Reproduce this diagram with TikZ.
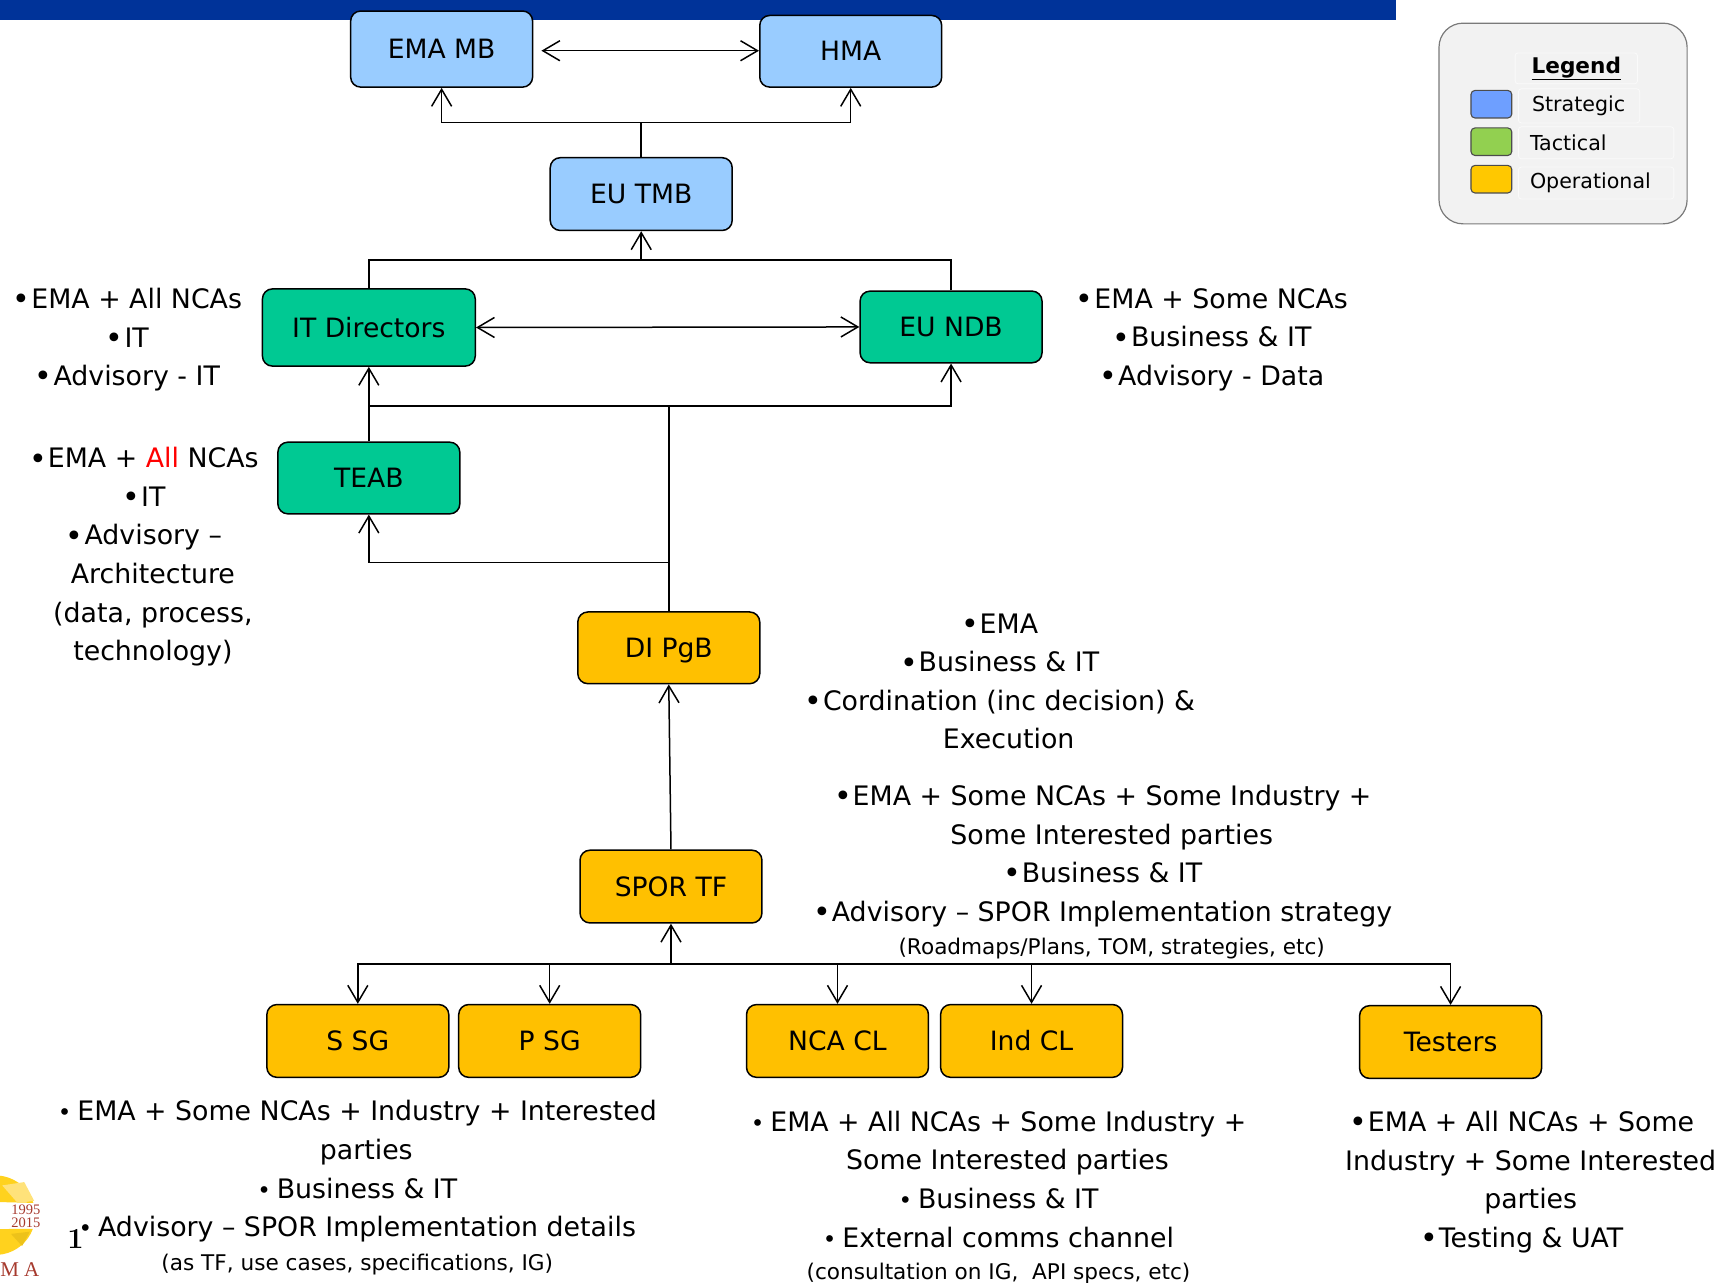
\documentclass[tikz,border=0pt]{standalone}
\usepackage{fontspec}
\setsansfont{DejaVu Sans}
\newfontfamily\logofont{Liberation Serif}
\usetikzlibrary{arrows.meta,calc}
\newdimen\pxu \pxu=1.1027pt
\definecolor{bandblue}{HTML}{003399}
\definecolor{stratfill}{HTML}{99CCFF}
\definecolor{tactfill}{HTML}{00C993}
\definecolor{opfill}{HTML}{FFC000}
\definecolor{legfill}{HTML}{F2F2F2}
\definecolor{legedge}{HTML}{7A7A7A}
\definecolor{logored}{HTML}{A63A2E}
\definecolor{logogold}{HTML}{FFD21E}
\definecolor{logolight}{HTML}{FFE27A}
\definecolor{logodark}{HTML}{EDC21A}
\newcommand{\bl}{\raisebox{-1.3pt}{\fontsize{30}{30}\selectfont\textbullet}\hspace{1pt}}
\newcommand{\sbl}{{\fontsize{23}{23}\selectfont\textbullet}\hspace{6pt}}
\newcommand{\nb}{\hspace*{18pt}}
\tikzset{
  x=1.1027pt,y=-1.1027pt,
  every node/.style={font=\sffamily},
  boxbase/.style={draw=black,line width=1.5pt,rounded corners=10pt,inner sep=0pt,text=black,
     text height=19.4pt,text depth=0pt,
     minimum width=165\pxu,minimum height=66\pxu,font=\sffamily\fontsize{26.6}{30}\selectfont},
  strat/.style={boxbase,fill=stratfill},
  tact/.style={boxbase,fill=tactfill},
  oper/.style={boxbase,fill=opfill},
  conn/.style={draw=black,line width=1.5pt},
  arr/.style={conn,-{Straight Barb[length=17pt,width=20pt,line width=1.5pt]}},
  darr/.style={conn,{Straight Barb[length=17pt,width=20pt,line width=1.5pt]}-{Straight Barb[length=17pt,width=20pt,line width=1.5pt]}},
  notes/.style={align=center,inner sep=0pt,text=black,font=\sffamily\fontsize{26.8}{38.6}\selectfont},
  swatch/.style={draw=black!70,line width=1.1pt,rounded corners=4pt,minimum width=37\pxu,minimum height=25\pxu,inner sep=0pt},
  legframe/.style={draw=white!60!legfill,fill=legfill,line width=0.8pt,rounded corners=3pt,inner ysep=0pt,align=left,text=black,font=\sffamily\fontsize{20.6}{24}\selectfont},
}
\begin{document}
\begin{tikzpicture}
\useasboundingbox (0,0) rectangle (1568,1163);
\clip (0,0) rectangle (1568,1163);
% band
\fill[bandblue] (0,0) rectangle (1266,18);
% logo
\fill[logogold] (-4,1102) ++(20:36) arc (20:120:36) -- ++(210:14) arc (120:20:22) -- cycle;
\fill[logogold] (-4,1102) ++(-18:36) arc (-18:-120:36) -- ++(150:14) arc (-120:-18:22) -- cycle;
\fill[logolight] (2,1075) -- (22,1072) -- (31,1089) -- (16,1091) -- cycle;
\fill[logodark] (10,1119) -- (27,1117) -- (20,1130) -- cycle;
\node[text=logored,font=\logofont\fontsize{14.5}{15}\selectfont,inner sep=0pt] (y1) at (23.5,1097) {1995};
\node[text=logored,font=\logofont\fontsize{14.5}{15}\selectfont,inner sep=0pt] (y2) at (23.5,1109) {2015};
\node[text=logored,font=\logofont\fontsize{21}{21}\selectfont,inner sep=0pt] (ma) at (18,1151) {M A};
\node[text=black,font=\rmfamily\bfseries\fontsize{29}{30}\selectfont,inner sep=0pt] (pg) at (68.5,1124) {1};
% boxes
\node[strat,minimum height=69\pxu] (emamb) at (400.5,44.5) {EMA MB};
\node[strat,minimum height=65\pxu] (hma) at (771.5,46.5) {HMA};
\node[strat] (tmb) at (581.5,176) {EU TMB};
\node[tact,minimum width=193\pxu,minimum height=70\pxu] (itd) at (334.5,297) {IT Directors};
\node[tact,minimum height=65\pxu] (ndb) at (862.5,296.5) {EU NDB};
\node[tact,minimum height=65\pxu] (teab) at (334.5,433.5) {TEAB};
\node[oper,minimum height=65\pxu] (pgb) at (606.5,587.5) {DI PgB};
\node[oper] (spor) at (608.5,804) {SPOR TF};
\node[oper] (ssg) at (324.5,944) {S SG};
\node[oper] (psg) at (498.5,944) {P SG};
\node[oper] (ncacl) at (759.5,944) {NCA CL};
\node[oper] (indcl) at (935.5,944) {Ind CL};
\node[oper] (test) at (1315.5,945) {Testers};
% connectors
\coordinate (emaright) at (491,46);
\coordinate (jtop) at (581.5,111);
\coordinate (jmid) at (581.5,236);
\coordinate (jit) at (606.5,368);
\coordinate (jteab) at (606.5,510);
\coordinate (jspor) at (608.5,874);
\draw[conn] (tmb.north) -- (jtop);
\draw[arr] (jtop) -| (emamb.south);
\draw[arr] (jtop) -| (hma.south);
\draw[darr] (emaright) -- (emaright -| hma.west);
\draw[conn] (itd.north) |- (jmid);
\draw[conn] (ndb.north) |- (jmid);
\draw[arr] (jmid) -- (tmb.south);
\draw[darr] (itd.east) -- (ndb.west);
\draw[arr] (teab.north) -- (itd.south);
\draw[conn] (pgb.north) -- (jit);
\draw[conn] (jit) -- (jit -| itd.south);
\draw[arr] (jit) -| (ndb.south);
\draw[arr] (jteab) -| (teab.south);
\draw[arr] (spor.north) -- (pgb.south);
\draw[arr] (jspor) -- (spor.south);
\foreach \t in {ssg,psg,ncacl,indcl,test} \draw[arr] (jspor) -| (\t.north);
% notes
\node[notes] (n1) at (115.5,308) {\bl EMA + All NCAs\\\bl IT\\\bl Advisory - IT};
\node[notes] (n2) at (1099,308) {\bl EMA + Some NCAs\\\bl Business \& IT\\\bl Advisory - Data};
\node[notes] (n3) at (130.5,505) {\bl EMA + \textcolor{red}{All} NCAs\\\bl IT\\\bl Advisory --\\\nb Architecture\\\nb (data, process,\\\nb technology)};
\node[notes] (n4) at (906.5,618) {\bl EMA\\\bl Business \& IT\\\bl Cordination (inc decision) \&\\\nb Execution};
\node[notes] (n5) at (1000,791) {\bl EMA + Some NCAs + Some Industry +\\\nb Some Interested parties\\\bl Business \& IT\\\bl Advisory -- SPOR Implementation strategy\\[-5pt]\nb{\fontsize{21.6}{24}\selectfont (Roadmaps/Plans, TOM, strategies, etc)}};
\node[notes] (n6) at (324,1077) {\sbl EMA + Some NCAs + Industry + Interested\\\hspace*{18pt}parties\\\sbl Business \& IT\\\sbl Advisory -- SPOR Implementation details\\[-5pt]{\fontsize{21.6}{24}\selectfont (as TF, use cases, specifications, IG)}};
\node[notes] (n7) at (905.5,1086) {\sbl EMA + All NCAs + Some Industry +\\\hspace*{18pt}Some Interested parties\\\sbl Business \& IT\\\sbl External comms channel\\[-6pt]{\fontsize{21.6}{24}\selectfont (consultation on IG,\ \ API specs, etc)}};
\node[notes] (n8) at (1380,1072) {\bl EMA + All NCAs + Some\\\nb Industry + Some Interested\\\nb parties\\\bl Testing \& UAT};
% legend
\node[draw=legedge,fill=legfill,line width=1.2pt,rounded corners=24pt,minimum width=225\pxu,minimum height=182\pxu,inner sep=0pt] (leg) at (1417.5,112) {};
\node[legframe,minimum width=111\pxu,minimum height=28\pxu,inner xsep=0pt,align=center,font=\sffamily\bfseries\fontsize{21.6}{24}\selectfont] (lt) at (1429.5,62) {\underline{Legend}};
\node[swatch,fill={rgb,255:red,110;green,159;blue,255}] (s1) at (1352.5,94.5) {};
\node[swatch,fill={rgb,255:red,146;green,208;blue,80}] (s2) at (1352.5,128.5) {};
\node[swatch,fill={rgb,255:red,255;green,200;blue,0}] (s3) at (1352.5,162.5) {};
\node[legframe,text width=98\pxu,inner xsep=6\pxu,minimum height=31\pxu] (l1) at (1432,96) {\hspace*{7pt}Strategic};
\node[legframe,text width=129\pxu,inner xsep=6\pxu,minimum height=29\pxu] (l2) at (1447.5,129.5) {\hspace*{5pt}Tactical};
\node[legframe,text width=129\pxu,inner xsep=6\pxu,minimum height=29\pxu] (l3) at (1447.5,166) {\hspace*{5pt}Operational};
\end{tikzpicture}
\end{document}
